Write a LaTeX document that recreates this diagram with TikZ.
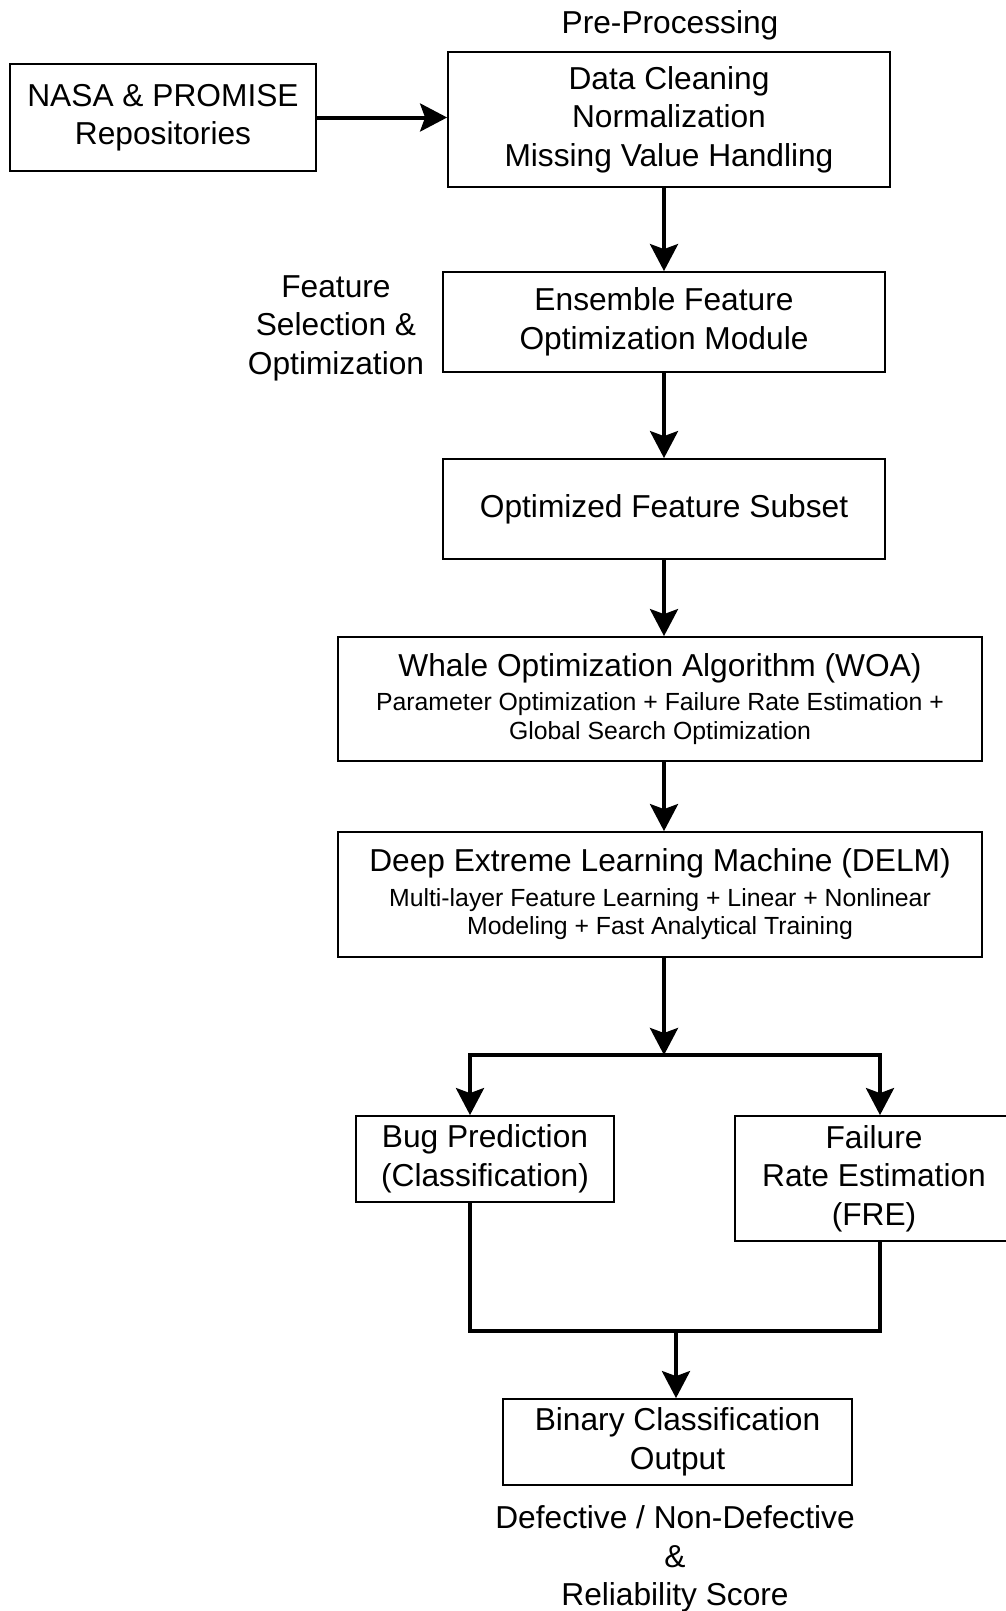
\documentclass[tikz,border=0pt]{standalone}
\usepackage{fontspec}
\setmainfont{Liberation Sans}
\usetikzlibrary{arrows.meta}
\newcommand{\bigtxt}{\fontsize{31.7pt}{38.5pt}\selectfont}
\newcommand{\smalltxt}{\fontsize{24.8pt}{28pt}\selectfont}
\tikzset{
  block/.style={draw,line width=1.8pt,align=center,inner sep=0pt,font=\bigtxt},
  label/.style={align=center,inner sep=0pt,font=\bigtxt},
  flow/.style={line width=4pt,line join=miter},
  arr/.style={flow,-{Stealth[length=27pt,width=28pt,inset=5pt]}}
}

\begin{document}
\begin{tikzpicture}[x=1pt,y=-1pt]
  \useasboundingbox (0,0) rectangle (1006,1611);

    % Define the column positions of the vertical connectors
    \def\xmain{664}   % main vertical flow line
    \def\xleft{470}   % left branch (bug prediction)
    \def\xright{880}  % right branch (failure rate)
    \def\ysplit{1055} % horizontal line of the split
    \def\ymerge{1331} % horizontal line of the merge

    % -- Input and pre-processing row --
    \node[block,minimum width=306pt,minimum height=107pt] (repo) at (163,117.5)
      {NASA \& PROMISE\\Repositories};
    \node[block,minimum width=442pt,minimum height=135pt] (prep) at (669,119.5)
      {Data Cleaning\\Normalization\\Missing Value Handling};
    \node[label] (preplbl) at (670,25) {Pre-Processing};

    % -- Feature selection stage --
    \node[block,minimum width=442pt,minimum height=100pt] (ens) at (664,322)
      {Ensemble Feature\\Optimization Module};
    \node[label] (enslbl) at (336,328) {Feature\\Selection \&\\Optimization};
    \node[block,minimum width=442pt,minimum height=100pt] (subset) at (664,509)
      {Optimized Feature Subset};

    % -- Optimizer and learner --
    \node[block,minimum width=644pt,minimum height=124pt] (woa) at (660,699)
      {Whale Optimization Algorithm (WOA)\\[-4pt]
       \smalltxt Parameter Optimization + Failure Rate Estimation +\\[-10pt]
       \smalltxt Global Search Optimization};
    \node[block,minimum width=644pt,minimum height=125pt] (delm) at (660,894.5)
      {Deep Extreme Learning Machine (DELM)\\[-4pt]
       \smalltxt Multi-layer Feature Learning + Linear + Nonlinear\\[-10pt]
       \smalltxt Modeling + Fast Analytical Training};

    % -- The two branches --
    \node[block,minimum width=258pt,minimum height=86pt] (bug) at (485,1159)
      {Bug Prediction\\(Classification)};
    \node[block,minimum width=278pt,minimum height=125pt] (fre) at (874,1178.5)
      {Failure\\Rate Estimation\\(FRE)};

    % -- Output --
    \node[block,minimum width=349pt,minimum height=86pt] (bin) at (677.5,1442)
      {Binary Classification\\Output};
    \node[label] (binlbl) at (675,1559) {Defective / Non-Defective\\\&\\Reliability Score};

    % -- Helper points for the split and merge lines --
    \coordinate (split)  at (\xmain,\ysplit);
    \coordinate (splitL) at (\xleft,\ysplit);
    \coordinate (splitR) at (\xright,\ysplit);
    \coordinate (mergeL) at (\xleft,\ymerge);
    \coordinate (mergeR) at (\xright,\ymerge);
    \coordinate (merge)  at (676,\ymerge);

    % -- Straight connectors --
    \draw[arr] (repo.east) -- (prep.west |- repo.east);
    \draw[arr] (prep.south -| ens) -- (ens.north);
    \draw[arr] (ens.south) -- (subset.north);
    \draw[arr] (subset.south) -- (subset.south |- woa.north);
    \draw[arr] (woa.south -| subset) -- (subset |- delm.north);
    \draw[arr] (delm.south -| split) -- (split);

    % -- Split into the two branches --
    \draw[flow,{Stealth[length=27pt,width=28pt,inset=5pt]}-{Stealth[length=27pt,width=28pt,inset=5pt]}]
      (splitL |- bug.north) -- (splitL) -- (splitR) -- (splitR |- fre.north);

    % -- Merge of the two branches --
    \draw[flow] (splitL |- bug.south) -- (mergeL) -- (mergeR) -- (splitR |- fre.south);
    \draw[arr] (merge) -- (merge |- bin.north);

\end{tikzpicture}
\end{document}
